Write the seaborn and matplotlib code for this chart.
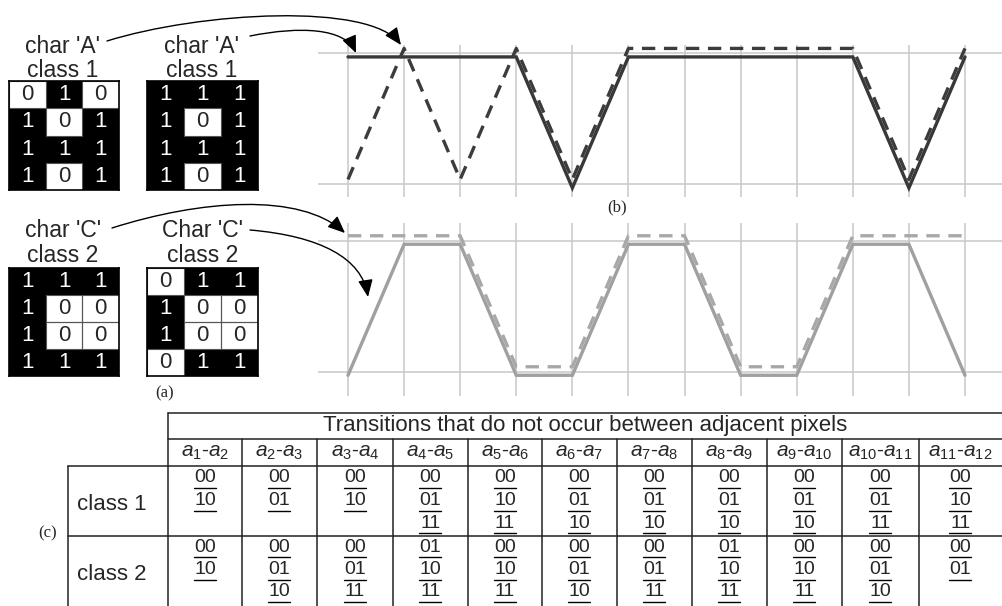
import numpy as np
import matplotlib
matplotlib.use('Agg')
import matplotlib.pyplot as plt
import seaborn as sns
from matplotlib.colors import ListedColormap
from matplotlib.patches import Rectangle, FancyArrowPatch
from matplotlib.path import Path

# 4x3 pixel grids of the characters (1 = black pixel)
char_a1 = [[0, 1, 0], [1, 0, 1], [1, 1, 1], [1, 0, 1]]
char_a2 = [[1, 1, 1], [1, 0, 1], [1, 1, 1], [1, 0, 1]]
char_c1 = [[1, 1, 1], [1, 0, 0], [1, 0, 0], [1, 1, 1]]
char_c2 = [[0, 1, 1], [1, 0, 0], [1, 0, 0], [0, 1, 1]]

# pixel sequences a1..a12 drawn as waves in (b)
positions = list(range(1, 13))
seq_a1 = [0, 1, 0, 1, 0, 1, 1, 1, 1, 1, 0, 1]   # dashed, top chart
seq_a2 = [1, 1, 1, 1, 0, 1, 1, 1, 1, 1, 0, 1]   # solid, top chart
seq_c1 = [1, 1, 1, 0, 0, 1, 1, 0, 0, 1, 1, 1]   # dashed, bottom chart
seq_c2 = [0, 1, 1, 0, 0, 1, 1, 0, 0, 1, 1, 0]   # solid, bottom chart

# table (c)
table_title = "Transitions that do not occur between adjacent pixels"
pair_labels = [r'$a_{%d}$-$a_{%d}$' % (i, i + 1) for i in range(1, 12)]
row_labels = ["class 1", "class 2"]
class1_missing = [["00", "10"], ["00", "01"], ["00", "10"], ["00", "01", "11"],
                  ["00", "10", "11"], ["00", "01", "10"], ["00", "01", "10"],
                  ["00", "01", "10"], ["00", "01", "10"], ["00", "01", "11"],
                  ["00", "10", "11"]]
class2_missing = [["00", "10"], ["00", "01", "10"], ["00", "01", "11"],
                  ["01", "10", "11"], ["00", "10", "11"], ["00", "01", "10"],
                  ["00", "01", "11"], ["01", "10", "11"], ["00", "10", "11"],
                  ["00", "01", "10"], ["00", "01"]]

sns.set_style("white")
plt.rcParams['font.family'] = ['Liberation Sans', 'DejaVu Sans']
plt.rcParams['mathtext.fontset'] = 'custom'
plt.rcParams['mathtext.it'] = 'Liberation Sans:italic'
plt.rcParams['mathtext.rm'] = 'Liberation Sans'

W, H = 1002, 606
fig = plt.figure(figsize=(W / 100, H / 100), dpi=100)


def px_axes(x0, y0, x1, y1):
    return fig.add_axes([x0 / W, 1 - y1 / H, (x1 - x0) / W, (y1 - y0) / H])


def draw_grid(grid, box):
    ax = px_axes(*box)
    sns.heatmap(np.array(grid), ax=ax, cmap=ListedColormap(['white', 'black']),
                vmin=0, vmax=1, cbar=False, annot=True, fmt='d',
                annot_kws={'fontsize': 16}, xticklabels=False, yticklabels=False)
    for r, row in enumerate(grid):
        for c, v in enumerate(row):
            if v == 0:
                ax.add_patch(Rectangle((c, r), 1, 1, fill=False, ec='#555555', lw=0.8))
    for s in ax.spines.values():
        s.set_visible(True)
        s.set_color('black')
        s.set_linewidth(1.2)


draw_grid(char_a1, (9, 81, 119, 190))
draw_grid(char_a2, (147, 81, 258, 190))
draw_grid(char_c1, (9, 268, 119, 376))
draw_grid(char_c2, (147, 268, 258, 376))

# ---- wave charts (b)
xl = (1 - 30 / 56.09, 12 + 37 / 56.09)


def wave_axes(box, ylim):
    ax = px_axes(*box)
    ax.set_xlim(*xl)
    ax.set_ylim(*ylim)
    for x in positions:
        ax.axvline(x, color='#c8c8c8', lw=1.1, zorder=0)
    ax.axhline(0, color='#c8c8c8', lw=1.1, zorder=0)
    ax.axhline(1, color='#c8c8c8', lw=1.1, zorder=0)
    ax.set_axis_off()
    return ax


ax_top = wave_axes((318, 45, 1002, 197), (-13 / 131, 1 + 8 / 131))
sns.lineplot(x=positions, y=np.array(seq_a2) - 0.03, ax=ax_top, color='#383838',
             lw=2.4, solid_joinstyle='miter')
sns.lineplot(x=positions, y=np.array(seq_a1) + 0.035, ax=ax_top, color='#3c3c3c',
             lw=2.4, linestyle=(0, (4, 2.6)))

ax_bot = wave_axes((318, 223, 1002, 396), (-24 / 131, 1 + 18 / 131))
sns.lineplot(x=positions, y=np.array(seq_c2) - 0.025, ax=ax_bot, color='#a0a0a0',
             lw=2.4, solid_joinstyle='miter')
sns.lineplot(x=positions, y=np.array(seq_c1) + 0.04, ax=ax_bot, color='#a8a8a8',
             lw=2.4, linestyle=(0, (4, 2.6)))

# ---- overlay in pixel coordinates: labels, arrows, table
ov = fig.add_axes([0, 0, 1, 1], zorder=5)
ov.set_xlim(0, W)
ov.set_ylim(H, 0)
ov.set_axis_off()
ov.patch.set_alpha(0)

lab_fs = 16.5
for cx, y0, y1, t1, t2 in [(63, 53, 77, "char 'A'", "class 1"),
                           (202, 53, 77, "char 'A'", "class 1"),
                           (63, 237, 262, "char 'C'", "class 2"),
                           (203, 237, 262, "Char 'C'", "class 2")]:
    ov.text(cx, y0, t1, ha='center', va='baseline', fontsize=lab_fs)
    ov.text(cx, y1, t2, ha='center', va='baseline', fontsize=lab_fs)

ov.text(165, 393, "(a)", ha='center', va='center', fontsize=12, family='Liberation Serif')
ov.text(617, 207, "(b)", ha='center', va='center', fontsize=12, family='Liberation Serif')
ov.text(48, 533, "(c)", ha='center', va='center', fontsize=12, family='Liberation Serif')

arrows = [
    [(107, 41), (200, 12), (370, 2), (401, 45)],
    [(250, 36), (300, 26), (345, 28), (356, 53)],
    [(112, 228), (200, 200), (300, 192), (345, 233)],
    [(250, 230), (320, 236), (362, 258), (368, 297)],
]
for pts in arrows:
    path = Path(pts, [Path.MOVETO, Path.CURVE4, Path.CURVE4, Path.CURVE4])
    ov.add_patch(FancyArrowPatch(path=path, arrowstyle='-|>,head_length=0.7,head_width=0.3',
                                 mutation_scale=15, color='black', lw=1.0))

# table geometry
col_edges = [168, 242, 317, 393, 468, 542, 617, 692, 767, 842, 919, 1002]
lc = '#222222'
tlw = 1.1
ov.plot([168, 1002], [413, 413], color=lc, lw=tlw)
ov.plot([168, 1002], [439, 439], color=lc, lw=tlw)
ov.plot([68, 1002], [466, 466], color=lc, lw=tlw)
ov.plot([68, 1002], [536, 536], color=lc, lw=tlw)
ov.plot([68, 68], [466, 606], color=lc, lw=tlw)
ov.plot([168, 168], [413, 606], color=lc, lw=tlw)
for x in col_edges[1:-1]:
    ov.plot([x, x], [439, 606], color=lc, lw=tlw)

ov.text(585, 426, table_title, ha='center', va='center', fontsize=16)
for i, lab in enumerate(pair_labels):
    cx = (col_edges[i] + col_edges[i + 1]) / 2
    ov.text(cx, 453, lab, ha='center', va='center', fontsize=15)

row_tops = [478, 547]
for r, (rlab, entries) in enumerate(zip(row_labels, [class1_missing, class2_missing])):
    ov.text(77, row_tops[r] + 27, rlab, ha='left', va='center', fontsize=16)
    for i, cell in enumerate(entries):
        cx = (col_edges[i] + col_edges[i + 1]) / 2
        for k, s in enumerate(cell):
            y = row_tops[r] + k * 22.5
            ov.text(cx, y, s, ha='center', va='center', fontsize=14)
            ov.plot([cx - 11, cx + 11], [y + 10, y + 10], color='black', lw=1)

fig.savefig('out.png', dpi=100)
